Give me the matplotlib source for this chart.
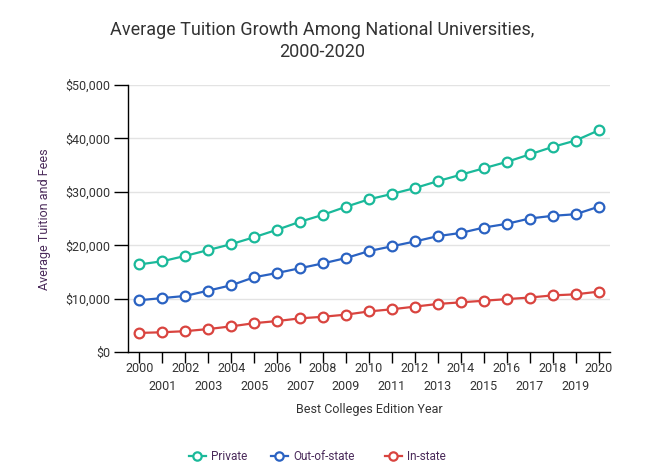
import matplotlib
matplotlib.use("Agg")
import matplotlib.pyplot as plt
from matplotlib.lines import Line2D

years = list(range(2000, 2021))
private = [16.4, 17.0, 18.0, 19.1, 20.2, 21.5, 22.9, 24.4, 25.7, 27.2, 28.6,
           29.6, 30.7, 32.0, 33.2, 34.4, 35.6, 37.0, 38.4, 39.6, 41.5]
out_of_state = [9.7, 10.1, 10.5, 11.5, 12.5, 14.0, 14.8, 15.7, 16.6, 17.6, 18.9,
                19.8, 20.7, 21.7, 22.3, 23.3, 24.0, 25.0, 25.5, 25.8, 27.2]
in_state = [3.57, 3.7, 3.9, 4.3, 4.8, 5.4, 5.8, 6.3, 6.6, 7.0, 7.6,
            8.0, 8.5, 9.0, 9.3, 9.6, 9.9, 10.2, 10.6, 10.8, 11.3]
private = [v * 1000 for v in private]
out_of_state = [v * 1000 for v in out_of_state]
in_state = [v * 1000 for v in in_state]

series_names = ["Private", "Out-of-state", "In-state"]
series_colors = ["#1ab99a", "#2a62c2", "#d9443f"]
y_ticks = [0, 10000, 20000, 30000, 40000, 50000]
y_tick_labels = ["$0", "$10,000", "$20,000", "$30,000", "$40,000", "$50,000"]

plt.rcParams['font.family'] = ['Roboto', 'DejaVu Sans']

fig = plt.figure(figsize=(6.65, 4.76), dpi=100)
ax = fig.add_axes([128/665, 1 - 352/476, (610-128)/665, (352-85)/476])

lines = []
for vals, name, col in zip([private, out_of_state, in_state], series_names, series_colors):
    ln, = ax.plot(years, vals, color=col, lw=1.6, marker='o', ms=7,
                  mfc='white', mec=col, mew=1.6, label=name, zorder=3, clip_on=False)
    lines.append(ln)

ax.set_xlim(1999.5, 2020.5)
ax.set_ylim(0, 50000)
ax.set_yticks(y_ticks)
ax.set_yticklabels(y_tick_labels, color='#333333', fontsize=9)
ax.grid(axis='y', color='#e3e3e3', lw=1)
ax.set_axisbelow(True)
for s in ['top', 'right']:
    ax.spines[s].set_visible(False)
for s in ['left', 'bottom']:
    ax.spines[s].set_color('black')
    ax.spines[s].set_linewidth(1)
ax.tick_params(axis='y', length=10, width=1, color='black', pad=3)

ax.set_xticks(years)
ax.set_xticklabels([])
ax.tick_params(axis='x', length=8, width=1, color='black')
for y in years:
    off = -16 if (y - 2000) % 2 == 0 else -34
    ax.annotate(str(y), (y, 0), xycoords=('data', 'axes fraction'),
                xytext=(0, off), textcoords='offset pixels',
                ha='center', va='center', fontsize=9, color='#333333')

fig.text(369/665, 1 - 410/476, "Best Colleges Edition Year", ha='center', va='center',
         fontsize=9, color='#333333')
fig.text(45/665, 1 - 219/476, "Average Tuition and Fees", rotation=90, ha='center',
         va='center', fontsize=9, color='#4a2a5a')

fig.text(322/665, 1 - 30/476, "Average Tuition Growth Among National Universities,",
         ha='center', va='center', fontsize=13, color='#333333')
fig.text(322/665, 1 - 52/476, "2000-2020", ha='center', va='center',
         fontsize=13, color='#333333')

legend_x = [189, 271, 385]
for c, name, lx in zip(series_colors, series_names, legend_x):
    h = Line2D([0], [0], color=c, lw=1.6, marker='o', ms=6, mfc='white', mec=c, mew=1.6)
    leg = fig.legend([h], [name], loc='center left', bbox_to_anchor=(lx/665, 1 - 457/476),
                     frameon=False, fontsize=8.5, handlelength=1.4, handletextpad=0.5,
                     borderpad=0, borderaxespad=0)
    for t in leg.get_texts():
        t.set_color('#4a2a5a')

fig.savefig("out.png", dpi=100)
